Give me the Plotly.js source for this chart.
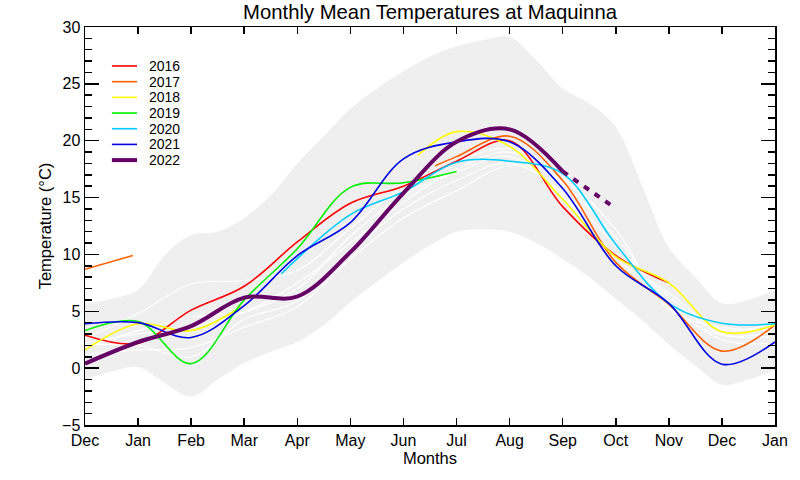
<!DOCTYPE html>
<html>
<head>
<meta charset="utf-8">
<script src="https://cdn.plot.ly/plotly-3.0.1.min.js"></script>
<style>html,body{margin:0;padding:0;background:#fff;}#chart{width:800px;height:480px;}</style>
</head>
<body>
<div id="chart"></div>
<script>
// ---- data ----
const monthLabels = ['Dec','Jan','Feb','Mar','Apr','May','Jun','Jul','Aug','Sep','Oct','Nov','Dec','Jan'];
const monthPos = [0,1,2,3,4,5,6,7,8,9,10,11,12,13];

// envelope of all years (min / max), half-month resolution
const envX = [0,0.5,1,1.5,2,2.5,3,3.5,4,4.5,5,5.5,6,6.5,7,7.5,8,8.5,9,9.5,10,10.5,11,11.5,12,12.5,13];
const envUpper = [5.7,6.1,6.9,9.9,11.7,12.0,13.2,15.2,18.0,20.4,22.8,24.6,26.1,27.4,28.3,28.85,29.1,27.1,24.6,23.3,21.2,16.0,10.6,8.0,5.7,6.0,6.9];
const envLower = [-1.0,-0.3,0.1,-1.3,-2.5,-1.0,0.45,1.45,2.3,3.8,5.8,7.6,9.3,10.8,12.0,12.2,12.0,11.0,9.6,8.0,6.1,4.2,2.1,0.2,-1.45,-1.0,-0.15];

// earlier years (drawn in white)
const oldYearA = [2.0,2.0,1.0,4.3,5.9,10.3,14.0,16.5,18.0,15.5,10.8,6.3,3.0,2.8];
const oldYearB = [1.8,3.3,4.5,5.0,7.5,11.0,14.6,17.5,19.0,16.2,11.5,5.8,2.5,2.2];
const oldYearC = [2.6,4.8,7.4,7.7,8.6,12.3,16.0,18.2,19.3,16.8,11.0,5.4,2.9,3.2];
const oldYearD = [1.2,1.6,1.8,3.6,5.4,9.6,13.2,15.6,17.8,16.6,12.2,5.2,3.6,3.4];
const oldYearE = [2.2,3.0,3.6,4.9,7.0,11.6,15.2,17.2,18.6,15.2,9.6,6.6,3.4,4.0];

const years = ['2016','2017','2018','2019','2020','2021','2022'];
const colors = ['#ff0000','#ff6000','#ffff00','#00ee00','#00ccff','#0000e0','#660066'];

const x2016 = [0,1,2,3,4,5,6,7,8,9,10,11];
const y2016 = [2.9,2.2,5.1,7.2,11.1,14.5,16.0,18.2,20.0,14.2,9.9,7.5];
const x2017 = [0,0.9,null,6.6,7,8,9,10,11,12,13];
const y2017 = [8.7,9.9,null,17.8,18.6,20.4,16.5,9.3,5.6,1.5,3.8];
const x2018 = [0,1,2,2.94,null,6.27,7,8,9,10,11,12,13];
const y2018 = [1.6,3.9,3.3,5.4,null,18.7,20.8,19.5,14.85,9.8,7.5,3.2,3.8];
const x2019 = [0,1,2,3,4,5,6,7];
const y2019 = [3.3,4.1,0.4,6.0,10.5,15.9,16.3,17.3];
const x2020 = [3.7,5,6,7,8,9,10,11,12,13];
const y2020 = [8.3,13.5,15.5,18.1,18.2,17.1,10.9,5.7,3.95,3.9];
const x2021 = [0,1,2,3,4,5,6,7,8,9,10,11,12,13];
const y2021 = [3.9,4.0,2.7,5.5,9.9,12.8,18.4,19.9,19.9,15.8,9.0,5.7,0.35,2.3];
const x2022 = [0,1,2,3,4,5,6,7,8,9];
const y2022 = [0.4,2.3,3.7,6.2,6.3,10.2,15.4,19.9,21.0,17.3];
const x2022f = [9,9.95];
const y2022f = [17.3,14.2];

// ---- traces ----
const FONT = 'Liberation Sans, Arial, Helvetica, sans-serif';
const traces = [];
traces.push({x: envX, y: envUpper, mode: 'lines', line: {width: 0, shape: 'spline', color: '#efefef'}, showlegend: false, hoverinfo: 'skip'});
traces.push({x: envX, y: envLower, mode: 'lines', fill: 'tonexty', fillcolor: '#efefef', line: {width: 0, shape: 'spline', color: '#efefef'}, showlegend: false, hoverinfo: 'skip'});
[oldYearA, oldYearB, oldYearC, oldYearD, oldYearE].forEach(v => {
  traces.push({x: monthPos, y: v, mode: 'lines', line: {color: '#ffffff', width: 1.2, shape: 'spline'}, showlegend: false});
});
const xs = [x2016, x2017, x2018, x2019, x2020, x2021, x2022];
const ys = [y2016, y2017, y2018, y2019, y2020, y2021, y2022];
years.forEach((yr, i) => {
  const last = i === years.length - 1;
  traces.push({x: xs[i], y: ys[i], name: yr, mode: 'lines', connectgaps: false,
    line: {color: colors[i], width: last ? 4 : 1.6, shape: 'spline'}, showlegend: false});
});
traces.push({x: x2022f, y: y2022f, mode: 'lines', line: {color: colors[6], width: 4, dash: '6px,7px'}, showlegend: false});

// ---- legend built from the years / colors arrays ----
const shapes = [];
const annotations = [];
const legTop = 0.902, legStep = 0.0394;
years.forEach((yr, i) => {
  const yy = legTop - i * legStep;
  shapes.push({type: 'line', xref: 'paper', yref: 'paper', x0: 0.039, x1: 0.0754, y0: yy, y1: yy,
    line: {color: colors[i], width: i === years.length - 1 ? 4 : 1.6}});
  annotations.push({xref: 'paper', yref: 'paper', x: 0.0905, y: yy, xanchor: 'left', yanchor: 'middle',
    text: yr, showarrow: false, font: {family: FONT, size: 14, color: '#000'}});
});

const layout = {
  width: 800, height: 480,
  margin: {l: 85, r: 25, t: 27, b: 55},
  paper_bgcolor: '#fff', plot_bgcolor: '#fff',
  font: {family: FONT, color: '#000', size: 16},
  title: {text: 'Monthly Mean Temperatures at Maquinna', x: 0.5375, xanchor: 'center', y: 0.975, yanchor: 'middle',
          yref: 'container', font: {family: FONT, size: 20.3, color: '#000'}},
  showlegend: false,
  xaxis: {range: [0, 13], tickvals: monthPos, ticktext: monthLabels, ticks: 'inside', ticklen: 7, tickwidth: 1.5,
          tickcolor: '#000', showline: true, linecolor: '#000', linewidth: 1.5, mirror: 'ticks',
          showgrid: false, zeroline: false, tickfont: {size: 16},
          title: {text: 'Months', font: {size: 16.5}, standoff: 0}},
  yaxis: {range: [-5, 30], tick0: 0, dtick: 5, ticks: 'inside', ticklen: 14, tickwidth: 1.5, tickcolor: '#000',
          minor: {dtick: 1, ticks: 'inside', ticklen: 7, tickwidth: 1.5, tickcolor: '#000', showgrid: false},
          showline: true, linecolor: '#000', linewidth: 1.5, mirror: 'ticks',
          showgrid: false, zeroline: false, tickfont: {size: 16},
          title: {text: 'Temperature (°C)', font: {size: 16.5}, standoff: 6}},
  shapes: shapes,
  annotations: annotations
};

Plotly.newPlot('chart', traces, layout, {staticPlot: true, displayModeBar: false});
</script>
</body>
</html>
